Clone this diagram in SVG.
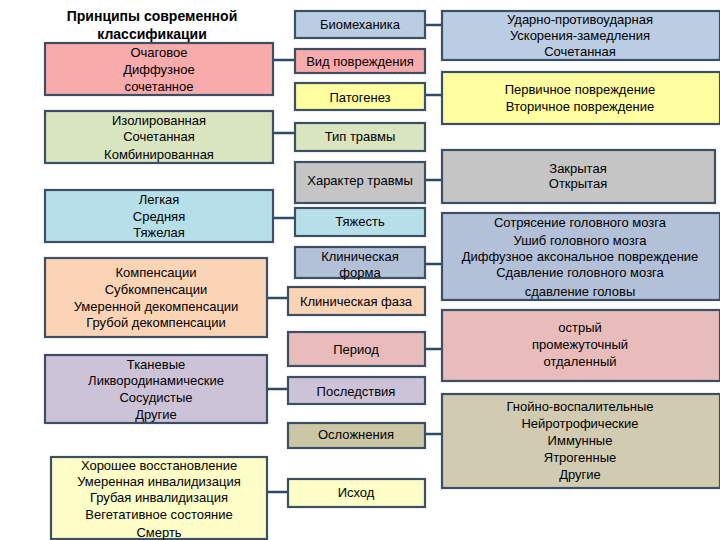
<svg xmlns="http://www.w3.org/2000/svg" width="720" height="540" viewBox="0 0 720 540">
<style>
rect.b{stroke:#3d4f64;stroke-width:2.2}
text{font-family:"Liberation Sans","DejaVu Sans",sans-serif;font-size:13px;fill:#000;text-anchor:middle}
.t{font-size:14px;font-weight:bold}
#conn line{stroke:#2f4a68;stroke-width:2.5}
</style>
<rect width="720" height="540" fill="#fff"/>
<g id="title"><text class="t" x="152" y="21">Принципы современной</text><text class="t" x="152" y="39">классификации</text></g>
<g id="conn">
<line x1="273" y1="60" x2="295" y2="60"/>
<line x1="273" y1="133" x2="295" y2="133"/>
<line x1="273" y1="218" x2="295" y2="218"/>
<line x1="267" y1="298" x2="288" y2="298"/>
<line x1="267" y1="389" x2="288" y2="389"/>
<line x1="267" y1="492" x2="288" y2="492"/>
<line x1="425" y1="25" x2="442" y2="25"/>
<line x1="425" y1="95" x2="442" y2="95"/>
<line x1="425" y1="180" x2="442" y2="180"/>
<line x1="425" y1="264" x2="442" y2="264"/>
<line x1="425" y1="349" x2="442" y2="349"/>
<line x1="425" y1="434" x2="442" y2="434"/>
</g>
<!-- left column -->
<g id="l1"><rect class="b" x="45" y="43" width="228" height="52" fill="#f9aaaa"/><text x="159" y="57">Очаговое</text><text x="159" y="74">Диффузное</text><text x="159" y="91">сочетанное</text></g>
<g id="l2"><rect class="b" x="45" y="111" width="228" height="52" fill="#d8e5be"/><text x="159" y="125">Изолированная</text><text x="159" y="141">Сочетанная</text><text x="159" y="159">Комбинированная</text></g>
<g id="l3"><rect class="b" x="45" y="190" width="228" height="52" fill="#b7dfe9"/><text x="159" y="204">Легкая</text><text x="159" y="221">Средняя</text><text x="159" y="237">Тяжелая</text></g>
<g id="l4"><rect class="b" x="45" y="258" width="222" height="79" fill="#fbd4b6"/><text x="156" y="277">Компенсации</text><text x="156" y="294">Субкомпенсации</text><text x="156" y="311">Умеренной декомпенсации</text><text x="156" y="327">Грубой декомпенсации</text></g>
<g id="l5"><rect class="b" x="45" y="355" width="222" height="68" fill="#cdc3d9"/><text x="156" y="369">Тканевые</text><text x="156" y="385">Ликвородинамические</text><text x="156" y="402">Сосудистые</text><text x="156" y="419">Другие</text></g>
<g id="l6"><rect class="b" x="51" y="457" width="216" height="82" fill="#fdfdc8"/><text x="159" y="470">Хорошее восстановление</text><text x="159" y="486">Умеренная инвалидизация</text><text x="159" y="502">Грубая инвалидизация</text><text x="159" y="519">Вегетативное состояние</text><text x="159" y="537">Смерть</text></g>
<!-- middle column -->
<g id="m1"><rect class="b" x="295" y="11" width="130" height="27" fill="#bacde3"/><text x="360" y="29">Биомеханика</text></g>
<g id="m2"><rect class="b" x="295" y="49" width="130" height="24" fill="#f9aaaa"/><text x="360" y="66">Вид повреждения</text></g>
<g id="m3"><rect class="b" x="295" y="83" width="130" height="27" fill="#fefd9f"/><text x="360" y="102">Патогенез</text></g>
<g id="m4"><rect class="b" x="295" y="123" width="130" height="28" fill="#d8e5be"/><text x="360" y="141">Тип травмы</text></g>
<g id="m5"><rect class="b" x="295" y="162" width="130" height="41" fill="#c5c5c5"/><text x="360" y="185">Характер травмы</text></g>
<g id="m6"><rect class="b" x="295" y="208" width="130" height="28" fill="#b7dfe9"/><text x="360" y="226">Тяжесть</text></g>
<g id="m7"><rect class="b" x="295" y="247" width="130" height="31" fill="#b3c1d8"/><text x="360" y="261">Клиническая</text><text x="360" y="277">форма</text></g>
<g id="m8"><rect class="b" x="288" y="287" width="137" height="28" fill="#fbd4b6"/><text x="356" y="306">Клиническая фаза</text></g>
<g id="m9"><rect class="b" x="288" y="332" width="137" height="34" fill="#e7bcbb"/><text x="356" y="354">Период</text></g>
<g id="m10"><rect class="b" x="288" y="377" width="137" height="27" fill="#cdc3d9"/><text x="356" y="396">Последствия</text></g>
<g id="m11"><rect class="b" x="288" y="423" width="137" height="25" fill="#cbc6a3"/><text x="356" y="439">Осложнения</text></g>
<g id="m12"><rect class="b" x="288" y="479" width="137" height="28" fill="#fdfdc8"/><text x="356" y="497">Исход</text></g>
<!-- right column -->
<g id="r1"><rect class="b" x="442" y="11" width="278" height="49" fill="#bacde3"/><text x="580" y="24">Ударно-противоударная</text><text x="580" y="40">Ускорения-замедления</text><text x="580" y="56">Сочетанная</text></g>
<g id="r2"><rect class="b" x="442" y="72" width="278" height="52" fill="#fefd9f"/><text x="580" y="94">Первичное повреждение</text><text x="580" y="111">Вторичное повреждение</text></g>
<g id="r3"><rect class="b" x="442" y="150" width="273" height="53" fill="#c5c5c5"/><text x="578" y="173">Закрытая</text><text x="578" y="188">Открытая</text></g>
<g id="r4"><rect class="b" x="442" y="213" width="278" height="87" fill="#b3c1d8"/><text x="580" y="227">Сотрясение головного мозга</text><text x="580" y="245">Ушиб головного мозга</text><text x="580" y="261">Диффузное аксональное повреждение</text><text x="580" y="277">Сдавление головного мозга</text><text x="580" y="296">сдавление головы</text></g>
<g id="r5"><rect class="b" x="442" y="310" width="278" height="71" fill="#e7bcbb"/><text x="580" y="332">острый</text><text x="580" y="349">промежуточный</text><text x="580" y="366">отдаленный</text></g>
<g id="r6"><rect class="b" x="442" y="394" width="278" height="94" fill="#d0cbb1"/><text x="580" y="411">Гнойно-воспалительные</text><text x="580" y="428">Нейротрофические</text><text x="580" y="445">Иммунные</text><text x="580" y="462">Ятрогенные</text><text x="580" y="479">Другие</text></g>
</svg>
